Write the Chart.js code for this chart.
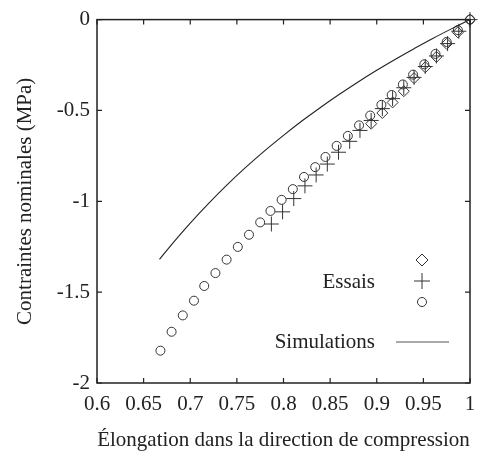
<!DOCTYPE html>
<html>
<head>
<meta charset="utf-8">
<script src="https://cdn.jsdelivr.net/npm/chart.js@4/dist/chart.umd.min.js"></script>
<style>
html,body{margin:0;padding:0;background:#fff;}
#wrap{width:500px;height:469px;position:relative;}
</style>
</head>
<body>
<div id="wrap"><canvas id="c" width="500" height="469"></canvas></div>
<script>
// ---- data ----
const xTickValues = [0.6, 0.65, 0.7, 0.75, 0.8, 0.85, 0.9, 0.95, 1];
const xTickLabels = ["0.6", "0.65", "0.7", "0.75", "0.8", "0.85", "0.9", "0.95", "1"];
const yTickValues = [0, -0.5, -1, -1.5, -2];
const yTickLabels = ["0", "-0.5", "-1", "-1.5", "-2"];

const circleX = [0.668, 0.680, 0.692, 0.704, 0.715, 0.727, 0.739, 0.751, 0.763, 0.775, 0.786, 0.798, 0.810, 0.822, 0.834, 0.845, 0.857, 0.869, 0.881, 0.893, 0.905, 0.916, 0.928, 0.939, 0.951, 0.963, 0.975, 0.987, 1.0];
const circleY = [-1.822, -1.718, -1.628, -1.547, -1.466, -1.395, -1.321, -1.251, -1.184, -1.116, -1.053, -0.992, -0.933, -0.866, -0.812, -0.756, -0.695, -0.640, -0.582, -0.528, -0.469, -0.415, -0.357, -0.303, -0.246, -0.189, -0.123, -0.058, 0];

const plusX = [0.787, 0.799, 0.811, 0.823, 0.835, 0.847, 0.859, 0.871, 0.882, 0.894, 0.906, 0.917, 0.929, 0.940, 0.952, 0.964, 0.976, 0.988, 1.0];
const plusY = [-1.125, -1.058, -0.985, -0.915, -0.855, -0.795, -0.730, -0.670, -0.610, -0.555, -0.490, -0.435, -0.375, -0.318, -0.258, -0.200, -0.132, -0.064, 0];

const diamondX = [0.894, 0.906, 0.917, 0.929, 0.940, 0.952, 0.964, 0.975, 0.987, 1.0];
const diamondY = [-0.573, -0.514, -0.456, -0.394, -0.322, -0.262, -0.205, -0.133, -0.070, 0];

const simX = [0.667, 0.68, 0.70, 0.72, 0.74, 0.76, 0.78, 0.80, 0.82, 0.84, 0.86, 0.88, 0.90, 0.92, 0.94, 0.96, 0.98, 1.0];
const simY = [-1.32, -1.238, -1.12, -1.01, -0.907, -0.811, -0.721, -0.637, -0.557, -0.482, -0.411, -0.343, -0.279, -0.218, -0.160, -0.104, -0.051, 0];

const legendEssais = "Essais";
const legendSim = "Simulations";
const xTitle = "Élongation dans la direction de compression";
const yTitle = "Contraintes nominales (MPa)";

const pts = (xs, ys) => xs.map((x, i) => ({x: x, y: ys[i]}));

const FONT = "'Liberation Serif', 'Times New Roman', serif";
const INK = "#222";

const frame = {
  id: 'frame',
  afterDraw(chart) {
    const {ctx, chartArea: a, scales} = chart;
    ctx.save();
    ctx.strokeStyle = INK;
    ctx.lineWidth = 1.5;
    ctx.strokeRect(a.left, a.top, a.right - a.left, a.bottom - a.top);
    ctx.lineWidth = 1.2;
    const L = 5;
    ctx.beginPath();
    xTickValues.forEach(v => {
      const px = scales.x.getPixelForValue(v);
      ctx.moveTo(px, a.bottom); ctx.lineTo(px, a.bottom - L);
      ctx.moveTo(px, a.top); ctx.lineTo(px, a.top + L);
    });
    yTickValues.forEach(v => {
      const py = scales.y.getPixelForValue(v);
      ctx.moveTo(a.left, py); ctx.lineTo(a.left + L, py);
      ctx.moveTo(a.right, py); ctx.lineTo(a.right - L, py);
    });
    ctx.stroke();

    // legend (inside plot, lower right)
    ctx.fillStyle = INK;
    ctx.font = "21px " + FONT;
    ctx.textAlign = "right";
    ctx.textBaseline = "middle";
    ctx.fillText(legendEssais, 375, 282);
    ctx.fillText(legendSim, 375, 342);
    const H = Chart.helpers;
    ctx.strokeStyle = "#333";
    ctx.fillStyle = "rgba(0,0,0,0)";
    ctx.lineWidth = 1;
    H.drawPoint(ctx, {pointStyle: 'rectRot', radius: 6, borderWidth: 1}, 422, 260);
    H.drawPoint(ctx, {pointStyle: 'cross', radius: 8, borderWidth: 1}, 422, 281);
    H.drawPoint(ctx, {pointStyle: 'circle', radius: 4.5, borderWidth: 1}, 422, 302);
    ctx.beginPath();
    ctx.moveTo(396, 342); ctx.lineTo(449, 342);
    ctx.strokeStyle = "#555";
    ctx.stroke();
    ctx.restore();
  }
};

new Chart(document.getElementById('c'), {
  type: 'scatter',
  data: {
    datasets: [
      {label: 'sim', type: 'line', data: pts(simX, simY), borderColor: '#222', borderWidth: 1.1,
       pointRadius: 0, tension: 0.4, fill: false, clip: false},
      {label: 'diamond', data: pts(diamondX, diamondY), pointStyle: 'rectRot', pointRadius: 5.5,
       borderColor: '#333', borderWidth: 1, backgroundColor: 'rgba(0,0,0,0)', clip: false},
      {label: 'plus', data: pts(plusX, plusY), pointStyle: 'cross', pointRadius: 7.5,
       borderColor: '#333', borderWidth: 1, backgroundColor: 'rgba(0,0,0,0)', clip: false},
      {label: 'circle', data: pts(circleX, circleY), pointStyle: 'circle', pointRadius: 4.5,
       borderColor: '#333', borderWidth: 1, backgroundColor: 'rgba(0,0,0,0)', clip: false}
    ]
  },
  options: {
    responsive: false,
    animation: false,
    events: [],
    layout: {padding: {left: 0, right: 30, top: 12, bottom: 0}},
    plugins: {legend: {display: false}, tooltip: {enabled: false}},
    scales: {
      x: {
        type: 'linear', min: 0.6, max: 1,
        grid: {display: false, drawTicks: false},
        border: {display: false},
        afterBuildTicks: s => { s.ticks = xTickValues.map(v => ({value: v})); },
        ticks: {color: INK, font: {family: FONT, size: 21}, padding: 9, maxRotation: 0, autoSkip: false,
                callback: (v, i) => xTickLabels[i]},
        title: {display: true, text: xTitle, color: INK, font: {family: FONT, size: 21}, padding: {top: 0, bottom: 16}},
        afterFit: s => { s.height = 86; }
      },
      y: {
        type: 'linear', min: -2, max: 0,
        grid: {display: false, drawTicks: false},
        border: {display: false},
        afterBuildTicks: s => { s.ticks = yTickValues.map(v => ({value: v})); },
        ticks: {color: INK, font: {family: FONT, size: 21}, padding: 7, autoSkip: false,
                callback: (v, i) => yTickLabels[i]},
        title: {display: true, text: yTitle, color: INK, font: {family: FONT, size: 21}, padding: {top: 13, bottom: 0}},
        afterFit: s => { s.width = 97; }
      }
    }
  },
  plugins: [frame]
});
</script>
</body>
</html>
